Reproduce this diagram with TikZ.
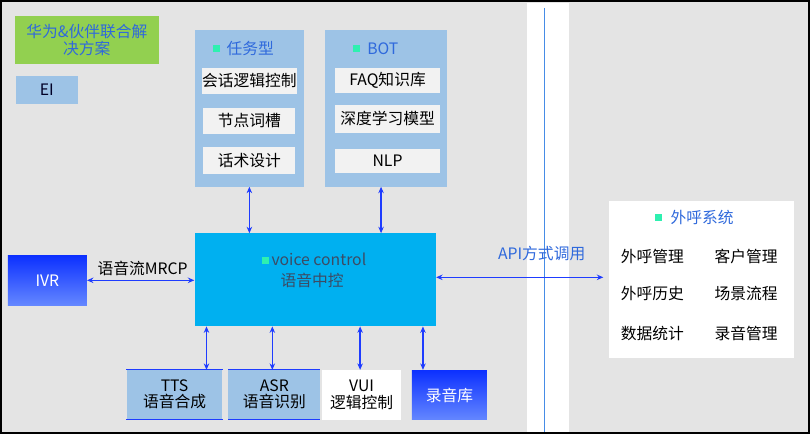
\documentclass[tikz,border=0pt]{standalone}
\usepackage{fontspec}
\setmainfont{Noto Sans CJK SC}
\usetikzlibrary{arrows.meta}
\definecolor{bggray}{RGB}{228,228,228}
\definecolor{panelblue}{RGB}{157,195,230}
\definecolor{innergray}{RGB}{242,242,242}
\definecolor{vcblue}{RGB}{0,176,240}
\definecolor{leafgreen}{RGB}{146,208,80}
\definecolor{arrowblue}{RGB}{30,60,255}
\definecolor{titleblue}{RGB}{47,105,220}
\definecolor{mint}{RGB}{46,240,176}
\definecolor{vctext}{RGB}{60,75,100}
\definecolor{gradtop}{RGB}{12,48,255}
\definecolor{gradbot}{RGB}{100,135,255}
\definecolor{linecol}{RGB}{70,140,230}
\begin{document}
\begin{tikzpicture}[x=1pt,y=-1pt,
  txt/.style={font=\fontsize{15.8}{18.5}\selectfont},
  boxn/.style={inner sep=0pt, txt},
  panel/.style={boxn, fill=panelblue},
  inner/.style={boxn, fill=innergray, text=black},
  marker/.style={fill=mint, inner sep=0pt, minimum size=7pt},
  arr/.style={draw=arrowblue, line width=1.5pt, {Stealth[length=6.5pt,width=5.5pt]}-{Stealth[length=6.5pt,width=5.5pt]}},
  gradbox/.style={boxn, top color=gradtop, bottom color=gradbot, text=white}
]
% background
\fill[bggray] (0,0) rectangle (810,433);
\fill[white] (527,2) rectangle (569,433);
\draw[linecol, line width=1pt] (545,7) -- (545,433);
\draw[black, line width=2pt] (0,0) rectangle (810,433);

% top-left legend
\node[boxn, fill=leafgreen, text=titleblue, align=center, minimum width=144pt, minimum height=48pt] (hw) at (86,39) {华为\&伙伴联合解\\[-1pt]决方案};
\node[boxn, fill=panelblue, text=black!85!blue, minimum width=62pt, minimum height=28pt] (ei) at (46,89) {EI};

% task panel
\node[panel, minimum width=110pt, minimum height=157pt] (task) at (249,107.5) {};
\node[marker] (m1) at (216,48) {};
\node[txt, text=titleblue, anchor=west, inner sep=0pt] (t1) at (226,48) {任务型};
\node[inner, minimum width=92pt, minimum height=26pt] (ta) at (249,80) {会话逻辑控制};
\node[inner, minimum width=92pt, minimum height=26pt] (tb) at (249,120) {节点词槽};
\node[inner, minimum width=92pt, minimum height=27pt] (tc) at (249,159.5) {话术设计};

% BOT panel
\node[panel, minimum width=122pt, minimum height=157pt] (bot) at (386,107.5) {};
\node[marker] (m2) at (356,48) {};
\node[txt, text=titleblue, anchor=west, inner sep=0pt] (t2) at (367,48) {BOT};
\node[inner, minimum width=105pt, minimum height=25pt] (ba) at (387.5,79.5) {FAQ知识库};
\node[inner, minimum width=105pt, minimum height=28pt] (bb) at (387.5,118) {深度学习模型};
\node[inner, minimum width=105pt, minimum height=24pt] (bc) at (387.5,160) {NLP};

% voice control
\node[boxn, fill=vcblue, minimum width=242pt, minimum height=93pt] (vc) at (315,279.5) {};
\node[marker] (m3) at (265,260) {};
\node[txt, text=vctext, anchor=west, inner sep=0pt] (vct) at (271,259) {voice control};
\node[txt, text=vctext, inner sep=0pt] (vcz) at (312,280) {语音中控};

% IVR
\node[gradbox, minimum width=79pt, minimum height=50pt] (ivr) at (46.5,280) {IVR};

% bottom boxes
\node[panel, text=black, align=center, minimum width=96pt, minimum height=49pt] (tts) at (174,394.5) {TTS\\[-2pt]语音合成};
\node[panel, text=black, align=center, minimum width=92pt, minimum height=49pt] (asr) at (274,394.5) {ASR\\[-2pt]语音识别};
\draw[arrowblue, line width=0.8pt] (tts.north west) -- (tts.north east) (tts.south west) -- (tts.south east);
\draw[arrowblue, line width=0.8pt] (asr.north west) -- (asr.north east) (asr.south west) -- (asr.south east);
\node[boxn, fill=white, text=black, align=center, minimum width=79pt, minimum height=50pt] (vui) at (361.5,395) {VUI\\[-2pt]逻辑控制};
\node[gradbox, minimum width=75pt, minimum height=50pt] (rec) at (449.5,395) {录音库};

% outbound system
\node[boxn, fill=white, minimum width=185pt, minimum height=157pt] (out) at (702.5,279.5) {};
\node[marker] (m4) at (659,217) {};
\node[txt, text=titleblue, anchor=west, inner sep=0pt] (ot) at (671,217) {外呼系统};
\node[txt, text=black] (o1) at (653,256) {外呼管理};
\node[txt, text=black] (o2) at (747,256) {客户管理};
\node[txt, text=black] (o3) at (653,293) {外呼历史};
\node[txt, text=black] (o4) at (747,293) {场景流程};
\node[txt, text=black] (o5) at (653,333) {数据统计};
\node[txt, text=black] (o6) at (747,333) {录音管理};

% connectors
\draw[arr] (task.south) -- (vc.north -| task.south);
\draw[arr] ([xshift=-5pt]bot.south) -- ([xshift=66pt]vc.north);
\draw[arr] (ivr.east) -- (ivr.east -| vc.west);
\node[txt, text=black] (mrcp) at (142,268) {语音流MRCP};
\draw[arr] ([xshift=-109pt]vc.south) -- ([xshift=32pt]tts.north);
\draw[arr] ([xshift=-43pt]vc.south) -- ([xshift=-2pt]asr.north);
\draw[arr] ([xshift=45pt]vc.south) -- ([xshift=-1.5pt]vui.north);
\draw[arr] ([xshift=108pt]vc.south) -- ([xshift=-26.5pt]rec.north);
\draw[arr, shorten >=6pt] ([yshift=2.5pt]vc.east) -- ([yshift=2.5pt]out.west);
\node[txt, text=titleblue] (api) at (542,253) {API方式调用};
\end{tikzpicture}
\end{document}
